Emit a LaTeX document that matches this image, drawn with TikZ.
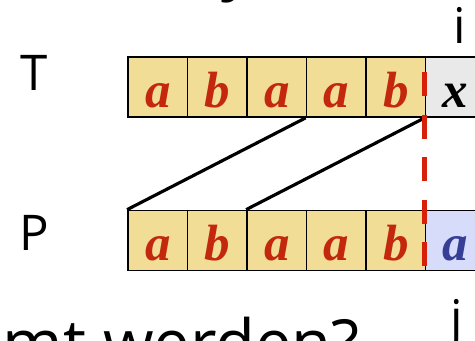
\documentclass[tikz,border=0pt]{standalone}
\usepackage{fontspec}
\setmainfont{Open Sans}
\newfontfamily\cellfont{Liberation Serif}
\usepackage{tikz}
\usetikzlibrary{calc}
\usepackage{xcolor}
\definecolor{cellyellow}{RGB}{241,221,150}
\definecolor{cellgray}{RGB}{233,233,233}
\definecolor{cellblue}{RGB}{214,220,250}
\definecolor{letterred}{RGB}{195,40,12}
\definecolor{letterblue}{RGB}{55,62,150}
\definecolor{cutred}{RGB}{214,32,10}
\begin{document}
\begin{tikzpicture}[
  cell/.style={draw, line width=1pt, minimum width=1.19cm, minimum height=1.2cm,
               inner sep=0pt, text height=1.0cm, text depth=0.2cm,
               font=\cellfont\bfseries\itshape\fontsize{29}{34}\selectfont},
  match/.style={cell, fill=cellyellow, text=letterred},
  shiftline/.style={line width=1.8pt},
  cutline/.style={draw=cutred, line width=2.8pt, dash pattern=on 0.48cm off 0.37cm},
  rowlabel/.style={inner sep=0pt, font=\fontsize{28}{34}\selectfont},
  title/.style={inner sep=0pt, font=\fontsize{37}{44}\selectfont}
]
  \useasboundingbox (0,0) rectangle (9.5,6.8);
  \clip (0,0) rectangle (9.5,6.8);

  % Text row
  \node[match] (t1) at (3.155, 5.06) {a};
  \node[match] (t2) at (4.345, 5.06) {b};
  \node[match] (t3) at (5.535, 5.06) {a};
  \node[match] (t4) at (6.725, 5.06) {a};
  \node[match] (t5) at (7.915, 5.06) {b};
  \node[cell, fill=cellgray] (t6) at (9.105, 5.06) {x};

  % Pattern row
  \node[match] (p1) at (3.155, 1.99) {a};
  \node[match] (p2) at (4.345, 1.99) {b};
  \node[match] (p3) at (5.535, 1.99) {a};
  \node[match] (p4) at (6.725, 1.99) {a};
  \node[match] (p5) at (7.915, 1.99) {b};
  \node[cell, fill=cellblue, text=letterblue] (p6) at (9.105, 1.99) {a};

  % Shift
  \draw[shiftline] (t4.south west) -- (p1.north west);
  \draw[shiftline] (t6.south west) -- (p3.north west);

  % Mismatch position
  \coordinate (cuttop) at ($(t6.north west)+(0,-0.32)$);
  \coordinate (cutbot) at ($(p6.south west)+(0,0.06)$);
  \draw[cutline] (cuttop) -- (cutbot);

  % Labels
  \node[rowlabel] (tlabel) at (0.68, 5.35) {T};
  \node[rowlabel] (plabel) at (0.69, 2.15) {P};
  \node[rowlabel, anchor=base] (ilabel) at (9.19, 5.94) {i};
  \node[rowlabel, anchor=base] (jlabel) at (9.14, 0.1) {j};

  % Slide text (cut off)
  \node[title, anchor=base] (toptext) at (4.75, 7.06) {y};
  \node[title, anchor=base east] (question) at (7.2, -0.52) {mt werden?};
\end{tikzpicture}
\end{document}
